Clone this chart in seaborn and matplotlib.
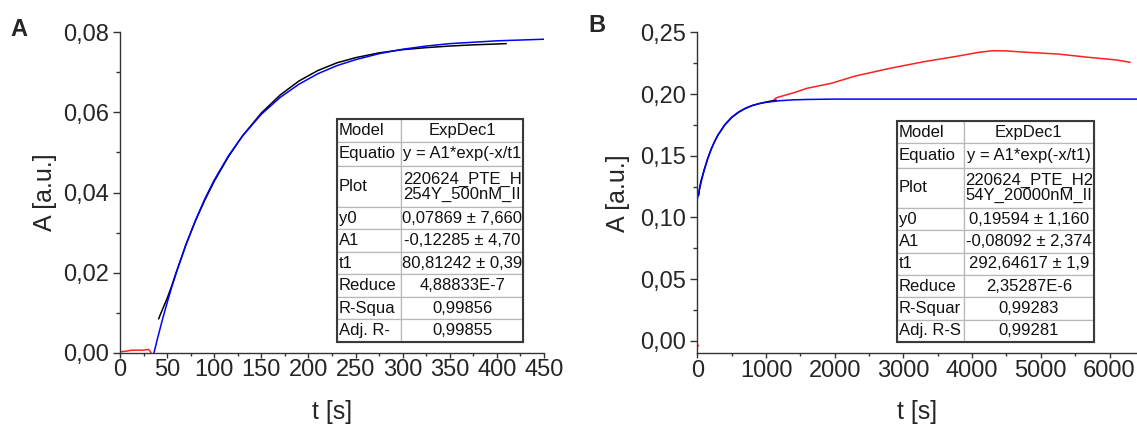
import matplotlib
matplotlib.use("Agg")
import matplotlib.pyplot as plt
import seaborn as sns
from matplotlib.ticker import MultipleLocator, FuncFormatter
from matplotlib.patches import Rectangle
from matplotlib.table import Table

# ---------------- Panel A data ----------------
a_red_t = [0, 4, 8, 12, 16, 20, 24, 28, 30, 31.5, 33]
a_red_y = [0.0003, 0.0004, 0.0005, 0.0007, 0.0007, 0.0007, 0.0007, 0.0008, 0.0009, 0.0006, 0.0]

a_black_t = [41, 43, 45, 50, 55, 60, 70, 80, 90, 100, 115, 130, 150, 170, 190,
             210, 230, 250, 275, 300, 325, 350, 375, 410]
a_black_y = [0.0085, 0.0097, 0.0108, 0.0136, 0.0168, 0.0203, 0.0270, 0.0329, 0.0381,
             0.0428, 0.0489, 0.0541, 0.0598, 0.0643, 0.0678, 0.0704, 0.0723, 0.0736,
             0.0748, 0.0756, 0.0761, 0.0765, 0.0768, 0.0771]

a_blue_t = [36, 38, 40, 45, 50, 55, 60, 70, 80, 90, 100, 115, 130, 150, 170, 190,
            210, 230, 250, 275, 300, 325, 350, 400, 450]
a_blue_y = [0.0000, 0.0019, 0.0038, 0.0083, 0.0125, 0.0165, 0.0202, 0.0270, 0.0330,
            0.0384, 0.0431, 0.0491, 0.0541, 0.0595, 0.0637, 0.0670, 0.0696, 0.0716,
            0.0731, 0.0746, 0.0757, 0.0765, 0.0771, 0.0778, 0.0782]

a_table_left = ["Model", "Equatio", "Plot", "y0", "A1", "t1", "Reduce", "R-Squa", "Adj. R-"]
a_table_right = ["ExpDec1", "y = A1*exp(-x/t1", "220624_PTE_H\n254Y_500nM_II",
                 "0,07869 ± 7,660", "-0,12285 ± 4,70", "80,81242 ± 0,39",
                 "4,88833E-7", "0,99856", "0,99855"]

# ---------------- Panel B data ----------------
b_red_pre_t = [0, 15]
b_red_pre_y = [-0.003, -0.004]
b_red_t = [1000, 1100, 1150, 1400, 1600, 1950, 2300, 2800, 3300, 3800, 4100, 4300,
           4500, 4800, 5250, 5700, 6100, 6300]
b_red_y = [0.1935, 0.1945, 0.1970, 0.2010, 0.2047, 0.2087, 0.2146, 0.2208, 0.2262,
           0.2308, 0.2338, 0.2351, 0.2349, 0.2338, 0.2324, 0.2297, 0.2276, 0.2257]

b_black_t = [20, 30, 50, 75, 100, 150, 200, 250, 300, 400, 500, 600, 700, 800, 900,
             1000, 1100, 1150]
b_black_y = [0.1180, 0.1230, 0.1290, 0.1340, 0.1390, 0.1478, 0.1553, 0.1615, 0.1668,
             0.1750, 0.1810, 0.1852, 0.1884, 0.1907, 0.1923, 0.1935, 0.1945, 0.1950]

b_blue_t = [0, 25, 50, 75, 100, 150, 200, 250, 300, 400, 500, 600, 700, 800, 900,
            1000, 1200, 1400, 1600, 2000, 3000, 4000, 5000, 6400]
b_blue_y = [0.1150, 0.1217, 0.1277, 0.1333, 0.1384, 0.1475, 0.1551, 0.1615, 0.1669,
            0.1753, 0.1813, 0.1855, 0.1885, 0.1907, 0.1922, 0.1933, 0.1946, 0.1953,
            0.1956, 0.1959, 0.1959, 0.1959, 0.1959, 0.1959]

b_table_left = ["Model", "Equatio", "Plot", "y0", "A1", "t1", "Reduce", "R-Squar", "Adj. R-S"]
b_table_right = ["ExpDec1", "y = A1*exp(-x/t1)", "220624_PTE_H2\n54Y_20000nM_II",
                 "0,19594 ± 1,160", "-0,08092 ± 2,374", "292,64617 ± 1,9",
                 "2,35287E-6", "0,99283", "0,99281"]

# ---------------- style ----------------
sns.set_style("ticks")
plt.rcParams['font.family'] = ['Liberation Sans', 'DejaVu Sans']
plt.rcParams['axes.linewidth'] = 1.0

RED = "#ff2020"
BLUE = "#0000ff"
BLACK = "#000000"

fig = plt.figure(figsize=(11.37, 4.25), dpi=100)
axA = fig.add_axes([120 / 1137, 72 / 425, 424 / 1137, 321 / 425])
axB = fig.add_axes([697.4 / 1137, 71.7 / 425, 439.6 / 1137, 321 / 425])

comma2 = FuncFormatter(lambda v, p: f"{v:.2f}".replace('.', ','))
intfmt = FuncFormatter(lambda v, p: f"{v:.0f}")


def draw_series(ax, t, y, color, lw=1.1):
    sns.lineplot(x=t, y=y, ax=ax, color=color, linewidth=lw, sort=False,
                 estimator=None, legend=False)


def style_axes(ax, xlim, ylim, xmaj, xmin, ymaj, ymin):
    ax.set_xlim(*xlim)
    ax.set_ylim(*ylim)
    ax.xaxis.set_major_locator(MultipleLocator(xmaj))
    ax.xaxis.set_minor_locator(MultipleLocator(xmin))
    ax.yaxis.set_major_locator(MultipleLocator(ymaj))
    ax.yaxis.set_minor_locator(MultipleLocator(ymin))
    ax.yaxis.set_major_formatter(comma2)
    ax.xaxis.set_major_formatter(intfmt)
    for s in ['top', 'right']:
        ax.spines[s].set_visible(False)
    for s in ['left', 'bottom']:
        ax.spines[s].set_color('#333333')
        ax.spines[s].set_linewidth(1.0)
    ax.tick_params(axis='y', which='major', direction='out', length=5, width=1.0,
                   color='#333333', labelsize=17, pad=3)
    ax.tick_params(axis='y', which='minor', direction='out', length=3, width=1.0,
                   color='#333333')
    ax.tick_params(axis='x', which='major', direction='out', length=3.5, width=1.0,
                   color='#333333', labelsize=17, pad=1)
    ax.tick_params(axis='x', which='minor', direction='out', length=2.5, width=1.0,
                   color='#333333')
    ax.set_xlabel("t [s]", fontsize=18)
    ax.set_ylabel("A [a.u.]", fontsize=18)
    ax.patch.set_alpha(0)


def add_table(ax, left, right, bbox, colw, rowh, fs=12):
    tbl = Table(ax, bbox=bbox)
    for r, (l, v) in enumerate(zip(left, right)):
        c0 = tbl.add_cell(r, 0, colw[0], rowh[r], text=l, loc='left',
                          edgecolor='#b8b8b8', facecolor='white')
        c0.PAD = 0.03
        c1 = tbl.add_cell(r, 1, colw[1], rowh[r], text=v, loc='center',
                          edgecolor='#b8b8b8', facecolor='white')
        for c in (c0, c1):
            c.set_linewidth(0.9)
            c.get_text().set_fontsize(fs)
            c.get_text().set_linespacing(1.0)
            c.get_text().set_color('#111111')
    tbl.auto_set_font_size(False)
    tbl.set_zorder(5)
    ax.add_table(tbl)
    ax.add_patch(Rectangle((bbox[0], bbox[1]), bbox[2], bbox[3], transform=ax.transAxes,
                           fill=False, edgecolor='#3a3a3a', linewidth=1.5, zorder=6,
                           clip_on=False))


row_heights = [1.0, 1.1, 1.8, 1.0, 1.0, 1.0, 1.0, 1.0, 1.0]

# Panel A
draw_series(axA, a_red_t, a_red_y, RED)
draw_series(axA, a_black_t, a_black_y, BLACK)
draw_series(axA, a_blue_t, a_blue_y, BLUE)
style_axes(axA, (0, 450), (0, 0.08), 50, 25, 0.02, 0.01)
axA.xaxis.set_label_coords(0.5, -0.184)
axA.xaxis.label.set_va('center')
axA.yaxis.set_label_coords(-0.177, 0.5)
axA.yaxis.label.set_va('center')
add_table(axA, a_table_left, a_table_right, [0.512, 0.0343, 0.4387, 0.6947],
          [0.344, 0.656], row_heights)

# Panel B
draw_series(axB, b_red_pre_t, b_red_pre_y, RED)
draw_series(axB, b_red_t, b_red_y, RED)
draw_series(axB, b_black_t, b_black_y, BLACK)
draw_series(axB, b_blue_t, b_blue_y, BLUE)
style_axes(axB, (0, 6400), (-0.01, 0.25), 1000, 500, 0.05, 0.025)
axB.xaxis.set_label_coords(0.5, -0.184)
axB.xaxis.label.set_va('center')
axB.yaxis.set_label_coords(-0.18, 0.5)
axB.yaxis.label.set_va('center')
add_table(axB, b_table_left, b_table_right, [0.454, 0.0352, 0.448, 0.689],
          [0.34, 0.66], row_heights)

fig.text(19 / 1137, 1 - 29 / 425, "A", fontsize=17, fontweight='bold', ha='center', va='center')
fig.text(597 / 1137, 1 - 26 / 425, "B", fontsize=17, fontweight='bold', ha='center', va='center')

fig.savefig("out.png", dpi=100)
